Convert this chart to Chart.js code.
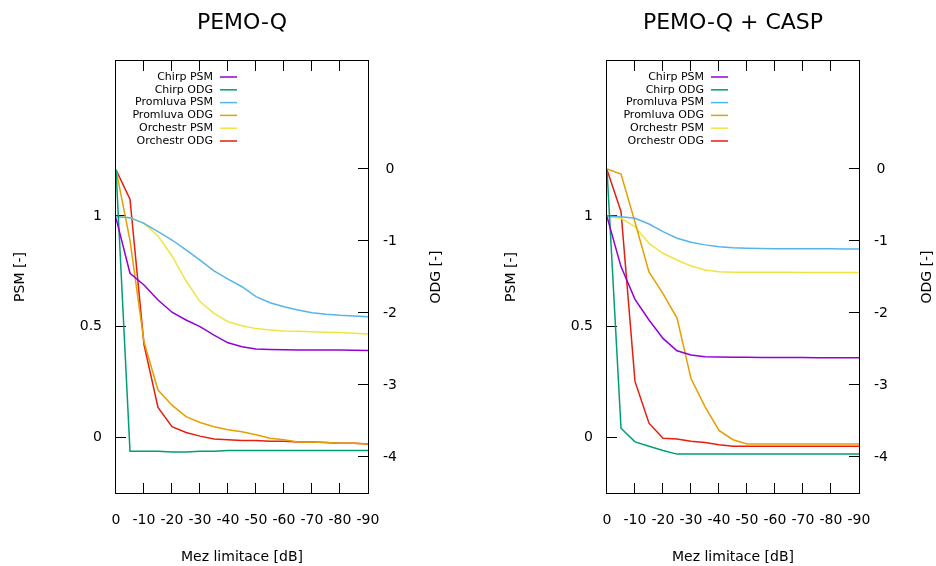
<!DOCTYPE html>
<html lang="cs">
<head>
<meta charset="UTF-8">
<title>PEMO-Q</title>
<script src="https://cdn.jsdelivr.net/npm/chart.js"></script>
<style>
    body {
        margin: 0;
        background: #fff;
    }
    #wrap {
        position: relative;
        width: 936px;
        height: 566px;
        overflow: hidden;
    }
    canvas {
        position: absolute;
        top: 0;
    }
    #left { left: 0; }
    #right { left: 491px; }
</style>
</head>
<body>
<div id="wrap">
    <canvas id="left" width="445" height="566"></canvas>
    <canvas id="right" width="445" height="566"></canvas>
</div>
<script>
// mez limitace [dB] (kreslí se jako 0 .. -90)
const limits = [0, 5, 10, 15, 20, 25, 30, 35, 40, 45, 50, 55, 60, 65, 70, 75, 80, 85, 90];
const xTicks = [0, 10, 20, 30, 40, 50, 60, 70, 80, 90];
const xTickLabels = ['0', '-10', '-20', '-30', '-40', '-50', '-60', '-70', '-80', '-90'];
const psmTicks = [0, 0.5, 1];
const psmTickLabels = ['0', '0.5', '1'];
const odgTicks = [0, -1, -2, -3, -4];
const odgTickLabels = ['0', '-1', '-2', '-3', '-4'];

const seriesNames = ['Chirp PSM', 'Chirp ODG', 'Promluva PSM', 'Promluva ODG', 'Orchestr PSM', 'Orchestr ODG'];
const seriesAxes = ['psm', 'odg', 'psm', 'odg', 'psm', 'odg'];
const seriesColors = ['#9400d3', '#009e73', '#56b4e9', '#e69f00', '#f0e442', '#e51e10'];

// PEMO-Q
const chirpPsm = [0.99, 0.742, 0.689, 0.621, 0.566, 0.531, 0.501, 0.463, 0.428, 0.41, 0.40, 0.398, 0.397, 0.396, 0.396, 0.395, 0.395, 0.394, 0.393];
const chirpOdg = [-0.01, -3.92, -3.92, -3.92, -3.93, -3.93, -3.92, -3.92, -3.91, -3.91, -3.91, -3.91, -3.91, -3.91, -3.91, -3.91, -3.91, -3.91, -3.91];
const promluvaPsm = [0.997, 0.993, 0.967, 0.93, 0.892, 0.847, 0.801, 0.753, 0.715, 0.681, 0.636, 0.609, 0.591, 0.576, 0.564, 0.557, 0.552, 0.549, 0.546];
const promluvaOdg = [-0.01, -0.99, -2.40, -3.07, -3.28, -3.44, -3.52, -3.58, -3.62, -3.65, -3.69, -3.74, -3.76, -3.79, -3.79, -3.80, -3.81, -3.81, -3.82];
const orchestrPsm = [0.998, 0.993, 0.967, 0.91, 0.82, 0.708, 0.614, 0.561, 0.523, 0.505, 0.492, 0.486, 0.481, 0.48, 0.478, 0.476, 0.474, 0.471, 0.468];
const orchestrOdg = [-0.01, -0.42, -2.44, -3.31, -3.58, -3.66, -3.71, -3.75, -3.76, -3.77, -3.77, -3.78, -3.78, -3.79, -3.79, -3.80, -3.81, -3.81, -3.82];

// PEMO-Q + CASP
const caspChirpPsm = [0.997, 0.772, 0.624, 0.531, 0.448, 0.392, 0.373, 0.365, 0.364, 0.363, 0.363, 0.362, 0.362, 0.362, 0.362, 0.361, 0.361, 0.361, 0.361];
const caspChirpOdg = [-0.01, -3.60, -3.79, -3.85, -3.91, -3.96, -3.96, -3.96, -3.96, -3.96, -3.96, -3.96, -3.96, -3.96, -3.96, -3.96, -3.96, -3.96, -3.96];
const caspPromluvaPsm = [1.0, 0.997, 0.99, 0.964, 0.93, 0.90, 0.882, 0.87, 0.862, 0.857, 0.855, 0.854, 0.853, 0.853, 0.852, 0.852, 0.852, 0.851, 0.851];
const caspPromluvaOdg = [0.0, -0.07, -0.74, -1.43, -1.73, -2.07, -2.91, -3.30, -3.63, -3.76, -3.82, -3.82, -3.82, -3.82, -3.82, -3.82, -3.82, -3.82, -3.82];
const caspOrchestrPsm = [0.997, 0.99, 0.952, 0.877, 0.832, 0.802, 0.775, 0.757, 0.749, 0.746, 0.746, 0.746, 0.746, 0.746, 0.745, 0.745, 0.745, 0.745, 0.745];
const caspOrchestrOdg = [-0.01, -0.59, -2.95, -3.53, -3.74, -3.75, -3.78, -3.80, -3.83, -3.85, -3.85, -3.85, -3.85, -3.85, -3.85, -3.85, -3.85, -3.85, -3.85];

const FONT = 'DejaVu Sans';
Chart.defaults.font.family = FONT;
Chart.defaults.color = '#000';

// ramecek, ticky dovnitr, legenda, nadpis a popisek prave osy jako v gnuplotu
const gnuplotFrame = {
    id: 'gnuplotFrame',
    beforeDatasetsDraw(chart) {
        const {ctx, chartArea: a, scales} = chart;
        const t = 10;
        ctx.save();
        ctx.strokeStyle = '#000';
        ctx.lineWidth = 1;
        ctx.strokeRect(a.left - 0.5, a.top - 0.5, a.right - a.left + 1, a.bottom - a.top + 1);
        ctx.beginPath();
        scales.x.ticks.forEach(tk => {
            if (tk.value === scales.x.min || tk.value === scales.x.max) return;
            const px = Math.round(scales.x.getPixelForValue(tk.value)) - 0.5;
            ctx.moveTo(px, a.bottom);
            ctx.lineTo(px, a.bottom - t);
            ctx.moveTo(px, a.top);
            ctx.lineTo(px, a.top + t);
        });
        scales.psm.ticks.forEach(tk => {
            const py = Math.round(scales.psm.getPixelForValue(tk.value)) - 0.5;
            ctx.moveTo(a.left, py);
            ctx.lineTo(a.left + t, py);
        });
        scales.odg.ticks.forEach(tk => {
            const py = Math.round(scales.odg.getPixelForValue(tk.value)) - 0.5;
            ctx.moveTo(a.right, py);
            ctx.lineTo(a.right - t, py);
        });
        ctx.stroke();
        ctx.restore();
    },
    afterDraw(chart) {
        const {ctx, chartArea: a, scales} = chart;
        ctx.save();
        ctx.font = '11px "' + FONT + '"';
        ctx.textAlign = 'right';
        ctx.textBaseline = 'middle';
        chart.data.datasets.forEach((ds, i) => {
            const y = 77 + i * 12.8;
            ctx.fillStyle = '#000';
            ctx.fillText(ds.label, a.left + 97, y);
            ctx.strokeStyle = ds.borderColor;
            ctx.lineWidth = 1.5;
            ctx.beginPath();
            ctx.moveTo(a.left + 104, y);
            ctx.lineTo(a.left + 121, y);
            ctx.stroke();
        });

        ctx.fillStyle = '#000';
        ctx.textAlign = 'center';
        ctx.font = '22px "' + FONT + '"';
        ctx.fillText(chart.options.chartTitle, (a.left + a.right) / 2, 23);

        ctx.font = '14px "' + FONT + '"';
        ctx.translate(scales.odg.right - 8.5, (a.top + a.bottom) / 2);
        ctx.rotate(-Math.PI / 2);
        ctx.fillText('ODG [-]', 0, 0);
        ctx.restore();
    }
};

function makeChart(id, title, series) {
    const datasets = series.map((values, i) => ({
        label: seriesNames[i],
        data: limits.map((x, j) => ({x: x, y: values[j]})),
        yAxisID: seriesAxes[i],
        borderColor: seriesColors[i],
        borderWidth: 1.5,
        pointRadius: 0,
        tension: 0,
        fill: false
    }));

    return new Chart(document.getElementById(id), {
        type: 'line',
        data: {datasets: datasets},
        plugins: [gnuplotFrame],
        options: {
            chartTitle: title,
            responsive: false,
            animation: false,
            layout: {padding: {top: 61, left: 0, right: 0, bottom: 0}},
            plugins: {
                legend: {display: false},
                tooltip: {enabled: false},
                title: {display: false}
            },
            scales: {
                x: {
                    type: 'linear',
                    min: 0,
                    max: 90,
                    grid: {display: false, drawTicks: false},
                    border: {display: false},
                    afterBuildTicks: s => { s.ticks = xTicks.map(v => ({value: v})); },
                    afterFit: s => { s.height = 73; },
                    ticks: {
                        padding: 18.5,
                        maxRotation: 0,
                        font: {size: 14},
                        callback: (v, i) => xTickLabels[i]
                    },
                    title: {
                        display: true,
                        text: 'Mez limitace [dB]',
                        font: {size: 14},
                        padding: {top: 0, bottom: 0.5}
                    }
                },
                psm: {
                    type: 'linear',
                    position: 'left',
                    min: -0.25,
                    max: 1.7,
                    grid: {display: false, drawTicks: false},
                    border: {display: false},
                    afterBuildTicks: s => { s.ticks = psmTicks.map(v => ({value: v})); },
                    afterFit: s => { s.width = 116; },
                    ticks: {
                        padding: 14,
                        font: {size: 14},
                        callback: (v, i) => psmTickLabels[i]
                    },
                    title: {
                        display: true,
                        text: 'PSM [-]',
                        font: {size: 14},
                        padding: {top: 11.6, bottom: 0}
                    }
                },
                odg: {
                    type: 'linear',
                    position: 'right',
                    min: -4.5,
                    max: 1.5,
                    grid: {display: false, drawTicks: false},
                    border: {display: false},
                    afterBuildTicks: s => { s.ticks = odgTicks.map(v => ({value: v})); },
                    afterFit: s => { s.width = 77; },
                    ticks: {
                        padding: 15,
                        crossAlign: 'center',
                        font: {size: 14},
                        callback: (v, i) => odgTickLabels[i]
                    }
                }
            }
        }
    });
}

makeChart('left', 'PEMO-Q', [chirpPsm, chirpOdg, promluvaPsm, promluvaOdg, orchestrPsm, orchestrOdg]);
makeChart('right', 'PEMO-Q + CASP', [caspChirpPsm, caspChirpOdg, caspPromluvaPsm, caspPromluvaOdg, caspOrchestrPsm, caspOrchestrOdg]);
</script>
</body>
</html>
